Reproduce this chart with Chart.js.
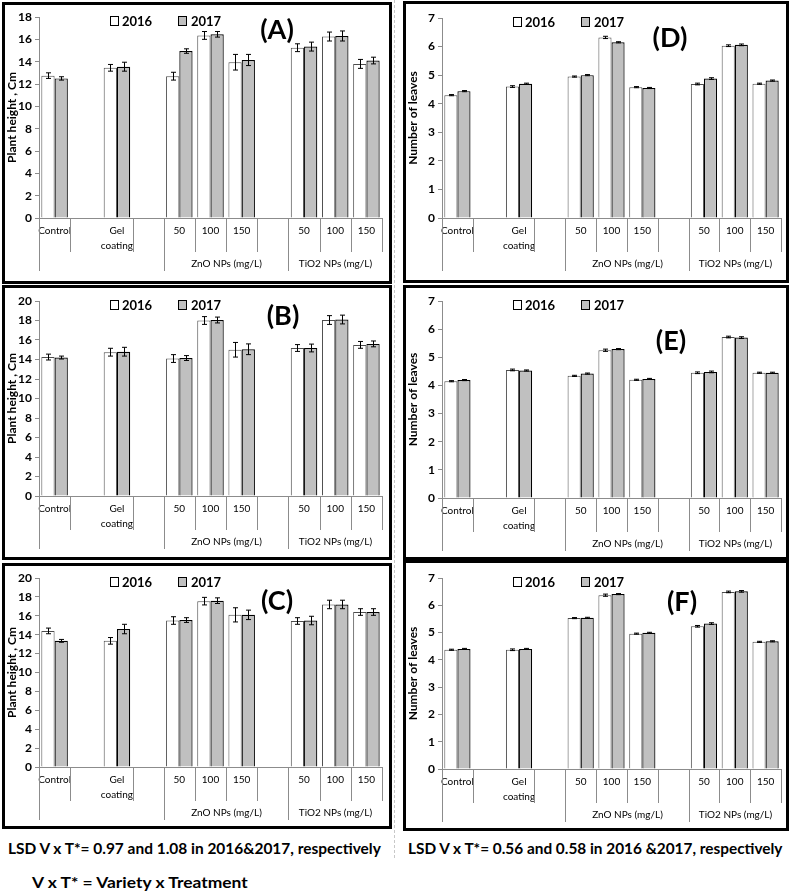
<!DOCTYPE html>
<html lang="en">
<head>
<meta charset="UTF-8">
<title>Plant height and number of leaves</title>
<script src="https://cdn.jsdelivr.net/npm/chart.js"></script>
<style>
  body { margin: 0; background: #fff; width: 789px; height: 893px; position: relative; overflow: hidden; font-family: Lato, sans-serif; }
  .box { position: absolute; border: 3px solid #000; box-sizing: border-box; }
  canvas { position: absolute; }
  .note { position: absolute; font-weight: bold; font-size: 15px; white-space: nowrap; transform-origin: left center; color: #000; }
  .split { position: absolute; left: 394px; top: 0; height: 858px; border-left: 1px dashed #c8c8c8; }
</style>
</head>
<body>
<div class="split"></div>
<div class="box" style="left:2px;top:2px;width:390px;height:282px"></div>
<div class="box" style="left:2px;top:285px;width:390px;height:275px"></div>
<div class="box" style="left:2px;top:563px;width:390px;height:266px"></div>
<div class="box" style="left:403px;top:1px;width:386px;height:282px"></div>
<div class="box" style="left:403px;top:285px;width:386px;height:275px"></div>
<div class="box" style="left:403px;top:560px;width:386px;height:271px"></div>

<canvas id="chartA"></canvas>
<canvas id="chartB"></canvas>
<canvas id="chartC"></canvas>
<canvas id="chartD"></canvas>
<canvas id="chartE"></canvas>
<canvas id="chartF"></canvas>

<div class="note" id="lsdLeft" data-w="373" style="left:8px;top:848px">LSD V x T*= 0.97 and 1.08 in 2016&amp;2017, respectively</div>
<div class="note" id="lsdRight" data-w="375" style="left:408px;top:848px">LSD V x T*= 0.56 and 0.58 in 2016 &amp;2017, respectively</div>
<div class="note" id="vxt" data-w="216" style="left:32px;top:882px">V x T* = Variety x Treatment</div>

<script>
  // categories (blank slots are the gaps between treatment groups)
  const categories = ['Control', '', ['Gel', 'coating'], '', '50', '100', '150', '', '50', '100', '150'];
  const groupLabels = ['ZnO NPs (mg/L)', 'TiO2 NPs (mg/L)'];
  const seriesNames = ['2016', '2017'];

  // plant height, cm
  const heightA2016 = [12.75, null, 13.45, null, 12.7, 16.35, 13.95, null, 15.25, 16.25, 13.8];
  const heightA2017 = [12.5, null, 13.55, null, 14.95, 16.45, 14.15, null, 15.35, 16.3, 14.1];
  const errA2016 = [0.25, null, 0.3, null, 0.35, 0.35, 0.7, null, 0.35, 0.4, 0.4];
  const errA2017 = [0.15, null, 0.4, null, 0.2, 0.25, 0.5, null, 0.4, 0.45, 0.3];

  const heightB2016 = [14.25, null, 14.75, null, 14.1, 18.0, 15.0, null, 15.18, 18.05, 15.5];
  const heightB2017 = [14.2, null, 14.8, null, 14.15, 18.05, 15.05, null, 15.18, 18.1, 15.6];
  const errB2016 = [0.3, null, 0.4, null, 0.4, 0.4, 0.75, null, 0.35, 0.45, 0.35];
  const errB2017 = [0.15, null, 0.45, null, 0.25, 0.3, 0.55, null, 0.4, 0.45, 0.3];

  const heightC2016 = [14.4, null, 13.35, null, 15.5, 17.55, 16.1, null, 15.45, 17.2, 16.4];
  const heightC2017 = [13.35, null, 14.6, null, 15.55, 17.6, 16.1, null, 15.5, 17.2, 16.4];
  const errC2016 = [0.3, null, 0.35, null, 0.4, 0.4, 0.75, null, 0.35, 0.45, 0.35];
  const errC2017 = [0.15, null, 0.5, null, 0.25, 0.3, 0.5, null, 0.45, 0.45, 0.35];

  // number of leaves
  const leavesD2016 = [4.3, null, 4.6, null, 4.95, 6.32, 4.58, null, 4.69, 6.03, 4.7];
  const leavesD2017 = [4.44, null, 4.7, null, 5.0, 6.15, 4.55, null, 4.88, 6.06, 4.81];
  const leavesE2016 = [4.15, null, 4.55, null, 4.34, 5.25, 4.2, null, 4.45, 5.72, 4.45];
  const leavesE2017 = [4.19, null, 4.53, null, 4.42, 5.29, 4.23, null, 4.48, 5.7, 4.45];
  const leavesF2016 = [4.37, null, 4.37, null, 5.53, 6.37, 4.96, null, 5.23, 6.49, 4.66];
  const leavesF2017 = [4.4, null, 4.4, null, 5.54, 6.41, 4.99, null, 5.33, 6.51, 4.68];
  const errLeaves2016 = [0.02, null, 0.03, null, 0.02, 0.04, 0.02, null, 0.03, 0.03, 0.02];
  const errLeaves2017 = [0.02, null, 0.02, null, 0.02, 0.02, 0.02, null, 0.03, 0.03, 0.02];

  const FONT = 'Lato, "Open Sans", sans-serif';

  // canvas: [x, y, w, h]; plot: [left, right, top, bottom] in page pixels
  const panels = [
    { id: 'chartA', tag: '(A)', tagAt: [238, 13], canvas: [5, 5, 384, 276], plot: [39, 382, 17, 218], max: 18, step: 2,
      title: 'Plant height , Cm', d16: heightA2016, d17: heightA2017, e16: errA2016, e17: errA2017 },
    { id: 'chartB', tag: '(B)', tagAt: [244, 15], canvas: [5, 288, 384, 269], plot: [39, 382, 301, 496], max: 20, step: 2,
      title: 'Plant height , Cm', d16: heightB2016, d17: heightB2017, e16: errB2016, e17: errB2017 },
    { id: 'chartC', tag: '(C)', tagAt: [238, 23], canvas: [5, 566, 384, 260], plot: [39, 382, 578, 767], max: 20, step: 2,
      title: 'Plant height , Cm', d16: heightC2016, d17: heightC2017, e16: errC2016, e17: errC2017 },
    { id: 'chartD', tag: '(D)', tagAt: [228, 20], canvas: [406, 4, 380, 276], plot: [442, 781, 18, 218], max: 7, step: 1,
      title: 'Number of leaves', d16: leavesD2016, d17: leavesD2017, e16: errLeaves2016, e17: errLeaves2017 },
    { id: 'chartE', tag: '(E)', tagAt: [229, 40], canvas: [406, 288, 380, 269], plot: [442, 781, 301, 498], max: 7, step: 1,
      title: 'Number of leaves', d16: leavesE2016, d17: leavesE2017, e16: errLeaves2016, e17: errLeaves2017 },
    { id: 'chartF', tag: '(F)', tagAt: [240, 24], canvas: [406, 563, 380, 265], plot: [442, 781, 578, 769], max: 7, step: 1,
      title: 'Number of leaves', d16: leavesF2016, d17: leavesF2017, e16: errLeaves2016, e17: errLeaves2017 }
  ];

  // error bars, legend, panel tag and the two-level category frame
  const extras = {
    id: 'extras',
    afterDatasetsDraw(chart, args, opts) {
      const ctx = chart.ctx, y = chart.scales.y;
      ctx.save();
      ctx.strokeStyle = '#000';
      ctx.lineWidth = 1;
      chart.data.datasets.forEach((ds, i) => {
        chart.getDatasetMeta(i).data.forEach((bar, j) => {
          const v = ds.data[j], e = opts.errs[i][j];
          if (v == null || !e) return;
          const x = Math.round(bar.x) + 0.5;
          const t = y.getPixelForValue(v + e), b = y.getPixelForValue(v - e);
          ctx.beginPath();
          ctx.moveTo(x, t); ctx.lineTo(x, b);
          ctx.moveTo(x - 2.5, t); ctx.lineTo(x + 2.5, t);
          ctx.moveTo(x - 2.5, b); ctx.lineTo(x + 2.5, b);
          ctx.stroke();
        });
      });
      ctx.restore();
    },
    afterDraw(chart, args, opts) {
      const ctx = chart.ctx, area = chart.chartArea, xs = chart.scales.x;
      const w = (xs.right - xs.left) / categories.length;
      const edge = b => Math.round(xs.left + b * w) + 0.5;
      ctx.save();

      // separators under the axis
      ctx.strokeStyle = '#8c8c8c';
      ctx.lineWidth = 1;
      ctx.beginPath();
      [1, 3, 5, 6, 7, 9, 10, 11].forEach(b => { ctx.moveTo(edge(b), xs.top); ctx.lineTo(edge(b), xs.top + 34); });
      [0, 4, 8].forEach(b => { ctx.moveTo(edge(b), xs.top); ctx.lineTo(edge(b), xs.top + 53); });
      ctx.stroke();

      ctx.fillStyle = '#000';
      ctx.font = '10px ' + FONT;
      ctx.textAlign = 'center';
      ctx.textBaseline = 'middle';
      ctx.fillText(groupLabels[0], (edge(4) + edge(8)) / 2, xs.top + 46);
      ctx.fillText(groupLabels[1], (edge(8) + edge(11)) / 2, xs.top + 46);

      // legend
      const ly = area.top + 4;
      ctx.lineWidth = 1;
      ctx.strokeStyle = '#000';
      ctx.fillStyle = '#fff';
      ctx.fillRect(area.left + 71.5, ly - 4.5, 8, 9);
      ctx.strokeRect(area.left + 71.5, ly - 4.5, 8, 9);
      ctx.fillStyle = '#c0c0c0';
      ctx.fillRect(area.left + 139.5, ly - 4.5, 8, 9);
      ctx.strokeRect(area.left + 139.5, ly - 4.5, 8, 9);
      ctx.fillStyle = '#000';
      ctx.font = 'bold 13px ' + FONT;
      ctx.textAlign = 'left';
      ctx.fillText(seriesNames[0], area.left + 83, ly + 0.5);
      ctx.fillText(seriesNames[1], area.left + 152, ly + 0.5);

      // panel tag
      ctx.font = 'bold 27px ' + FONT;
      ctx.textAlign = 'center';
      ctx.fillText(opts.tag, area.left + opts.tagAt[0], area.top + opts.tagAt[1]);
      ctx.restore();
    }
  };

  panels.forEach(p => {
    const [cx, cy, cw, ch] = p.canvas;
    const [pl, pr, pt, pb] = p.plot;
    const el = document.getElementById(p.id);
    el.width = cw; el.height = ch;
    el.style.left = cx + 'px'; el.style.top = cy + 'px';

    new Chart(el.getContext('2d'), {
      type: 'bar',
      data: {
        labels: categories,
        datasets: [
          { label: seriesNames[0], data: p.d16, backgroundColor: '#ffffff', borderColor: '#4d4d4d', borderWidth: 1 },
          { label: seriesNames[1], data: p.d17, backgroundColor: '#c0c0c0', borderColor: '#000000', borderWidth: 1.2 }
        ]
      },
      options: {
        responsive: false,
        animation: false,
        events: [],
        datasets: { bar: { categoryPercentage: 0.85, barPercentage: 1.0, skipNull: false } },
        layout: { padding: { top: pt - cy, right: cx + cw - pr, left: 0, bottom: 0 } },
        plugins: {
          legend: { display: false },
          tooltip: { enabled: false },
          extras: { errs: [p.e16, p.e17], tag: p.tag, tagAt: p.tagAt }
        },
        scales: {
          x: {
            grid: { display: false, drawTicks: false },
            border: { display: true, color: '#8c8c8c' },
            ticks: { color: '#000', font: { family: FONT, size: 10, lineHeight: 1.45 }, padding: 6, autoSkip: false, maxRotation: 0 },
            afterFit: s => { s.height = cy + ch - pb; }
          },
          y: {
            min: 0, max: p.max,
            grid: { display: true, drawOnChartArea: false, drawTicks: true, tickLength: 4, color: '#8c8c8c' },
            border: { display: true, color: '#8c8c8c' },
            ticks: { stepSize: p.step, color: '#000', font: { family: FONT, size: 12, weight: 'bold' }, padding: 3 },
            title: { display: true, text: p.title, color: '#000', font: { family: FONT, size: 12, weight: 'bold' }, padding: 0 },
            afterFit: s => { s.width = pl - cx; }
          }
        }
      },
      plugins: [extras]
    });
  });

  // squeeze the footnotes to the width they take in the figure
  document.querySelectorAll('.note').forEach(n => {
    const r = Number(n.dataset.w) / n.offsetWidth;
    n.style.transform = 'translateY(-50%) scaleX(' + r + ')';
  });
</script>
</body>
</html>
